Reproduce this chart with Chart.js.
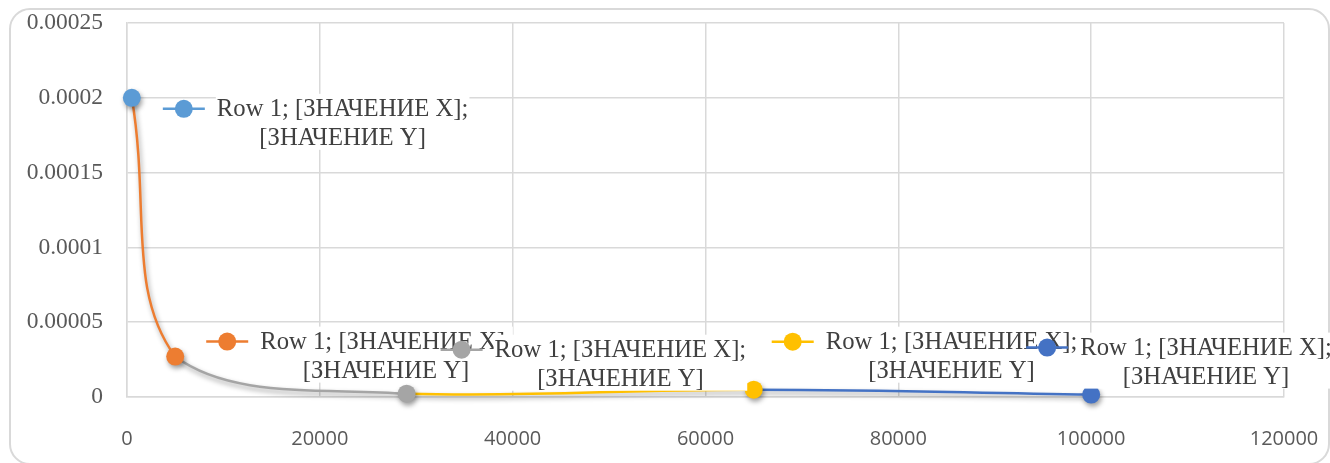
<!DOCTYPE html>
<html>
<head>
<meta charset="utf-8">
<script src="https://cdn.jsdelivr.net/npm/chart.js@4.4.1/dist/chart.umd.min.js"></script>
<style>
  html, body { margin: 0; padding: 0; background: #ffffff; }
  #wrap { width: 1330px; height: 463px; position: relative; }
</style>
</head>
<body>
<div id="wrap"><canvas id="chart" width="1330" height="463"></canvas></div>
<script>
// Series values
const xValues = [500, 5000, 29000, 65000, 100000];
const yValues = [0.0002, 0.000027, 0.0000022, 0.0000049, 0.0000016];

// Axis ticks
const xTickValues = [0, 20000, 40000, 60000, 80000, 100000, 120000];
const yTickLabels = ['0', '0.00005', '0.0001', '0.00015', '0.0002', '0.00025'];

// Data label text
const labelLine1 = 'Row 1; [ЗНАЧЕНИЕ X];';
const labelLine2 = '[ЗНАЧЕНИЕ Y]';

// Per-point colours (each segment takes the colour of the point it runs into)
const pointColors = ['#5B9BD5', '#ED7D31', '#A5A5A5', '#FFC000', '#4472C4'];

// Label placement: offset of the legend key centre from its point, in px
const labelOffsets = [[52, 11], [52, -15], [55, -44], [39, -48], [-44, -47]];

const GRID = '#d9d9d9';
const TICK_COLOR = '#595959';
const LABEL_COLOR = '#404040';

const frame = {
  id: 'frame',
  beforeDraw(chart) {
    const c = chart.ctx;
    c.save();
    c.fillStyle = '#ffffff';
    c.fillRect(0, 0, chart.width, chart.height);
    c.strokeStyle = GRID;
    c.lineWidth = 2;
    c.beginPath();
    c.roundRect(10, 9, 1319, 455, 20);
    c.stroke();
    c.restore();
  }
};

const shadow = {
  id: 'shadow',
  beforeDatasetDraw(chart) {
    const c = chart.ctx;
    c.save();
    c.shadowColor = 'rgba(0,0,0,0.38)';
    c.shadowBlur = 5;
    c.shadowOffsetX = 1.5;
    c.shadowOffsetY = 3;
  },
  afterDatasetDraw(chart) {
    chart.ctx.restore();
  }
};

const pointLabels = {
  id: 'pointLabels',
  afterDatasetsDraw(chart) {
    const c = chart.ctx;
    const meta = chart.getDatasetMeta(0);
    c.save();
    c.font = '24.7px "Liberation Serif", "Times New Roman", serif';
    const w1 = c.measureText(labelLine1).width;
    meta.data.forEach((pt, i) => {
      const [dx, dy] = labelOffsets[i];
      const mx = pt.x + dx;
      const my = pt.y + dy;
      const tx = mx + 33;
      const cx = tx + w1 / 2;
      // text box
      c.fillStyle = '#ffffff';
      c.fillRect(tx - 1, my - 15, w1 + 2, 56);
      // legend key
      c.strokeStyle = pointColors[i];
      c.lineWidth = 2.5;
      c.beginPath();
      c.moveTo(mx - 21, my);
      c.lineTo(mx + 21, my);
      c.stroke();
      c.fillStyle = pointColors[i];
      c.beginPath();
      c.arc(mx, my, 9, 0, Math.PI * 2);
      c.fill();
      // text
      c.fillStyle = LABEL_COLOR;
      c.textAlign = 'center';
      c.textBaseline = 'middle';
      c.fillText(labelLine1, cx, my + 1);
      c.fillText(labelLine2, cx, my + 30);
    });
    c.restore();
  }
};

new Chart(document.getElementById('chart'), {
  type: 'scatter',
  data: {
    datasets: [{
      data: xValues.map((x, i) => ({ x: x, y: yValues[i] })),
      showLine: true,
      tension: 0.42,
      borderWidth: 2.5,
      borderColor: pointColors[1],
      segment: {
        borderColor: ctx => pointColors[ctx.p1DataIndex]
      },
      pointBackgroundColor: pointColors,
      pointBorderColor: pointColors,
      pointRadius: 9,
      pointBorderWidth: 0,
      pointHoverRadius: 9,
      clip: false
    }]
  },
  options: {
    responsive: false,
    animation: false,
    devicePixelRatio: 1,
    layout: { padding: { top: 23, right: 46, left: 0, bottom: 0 } },
    plugins: {
      legend: { display: false },
      tooltip: { enabled: false }
    },
    scales: {
      x: {
        type: 'linear',
        min: 0,
        max: 120000,
        afterBuildTicks: s => { s.ticks = xTickValues.map(v => ({ value: v })); },
        afterFit: s => { s.height = 66; },
        grid: { color: GRID, lineWidth: 1.5, drawTicks: true, tickLength: 30, tickColor: 'rgba(0,0,0,0)' },
        border: { color: GRID, width: 1.5 },
        ticks: {
          color: TICK_COLOR,
          padding: 0,
          maxRotation: 0,
          font: { family: '"Open Sans", "Liberation Sans", sans-serif', size: 20 },
          callback: v => String(v)
        }
      },
      y: {
        type: 'linear',
        min: 0,
        max: 0.00025,
        afterBuildTicks: s => { s.ticks = yTickLabels.map((t, i) => ({ value: i * 0.00005 })); },
        afterFit: s => { s.width = 127; },
        grid: { color: GRID, lineWidth: 1.5, drawTicks: true, tickLength: 24, tickColor: 'rgba(0,0,0,0)' },
        border: { color: GRID, width: 1.5 },
        ticks: {
          color: TICK_COLOR,
          padding: 0,
          font: { family: '"Liberation Serif", "Times New Roman", serif', size: 23.5 },
          callback: (v, i) => yTickLabels[i]
        }
      }
    }
  },
  plugins: [frame, shadow, pointLabels]
});
</script>
</body>
</html>
